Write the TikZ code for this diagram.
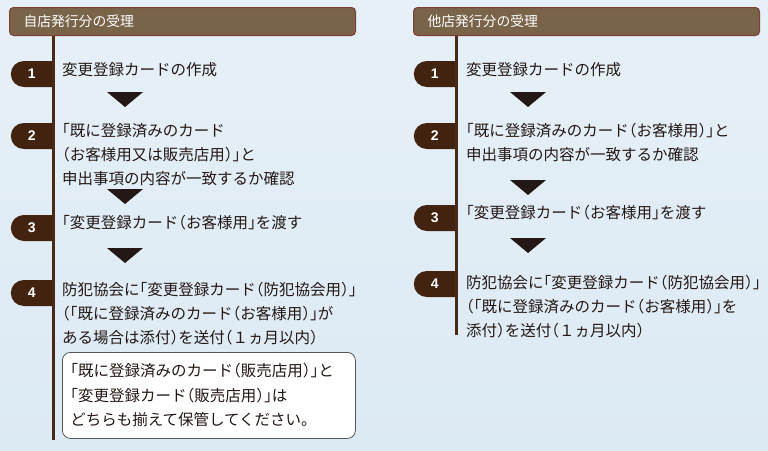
\documentclass[tikz,border=0pt]{standalone}
\usepackage{fontspec}
\setmainfont{Noto Sans CJK JP}[RawFeature=+halt]
\newfontfamily\numfont{Liberation Sans}
\usetikzlibrary{shapes.misc}
\definecolor{bgtop}{HTML}{E6F0F7}
\definecolor{bgbot}{HTML}{DCEAF4}
\definecolor{hdrfill}{HTML}{7A6449}
\definecolor{hdredge}{HTML}{7B3F34}
\definecolor{tabbrown}{HTML}{42230F}
\definecolor{linebrown}{HTML}{4B2A15}
\definecolor{ink}{HTML}{231815}
\definecolor{notegray}{HTML}{555555}

\begin{document}
\begin{tikzpicture}[x=1pt,y=-1pt,
    header/.style={draw=hdredge, line width=1pt, fill=hdrfill, rounded corners=4pt,
      anchor=north west, minimum height=28pt, text width=318pt, inner xsep=14pt,
      align=left, text=white, font=\fontsize{13.8}{14}\selectfont},
    numtab/.style={rounded rectangle, rounded rectangle right arc=none, fill=tabbrown,
      anchor=east, minimum width=41pt, minimum height=26pt, inner sep=0pt,
      text=white, font=\numfont\bfseries\fontsize{14}{14}\selectfont},
    steptext/.style={anchor=north west, inner sep=0pt, align=left, text=ink,
      font=\fontsize{15.5}{24}\selectfont},
    notebox/.style={draw=notegray, line width=0.8pt, fill=white, rounded corners=8pt,
      anchor=north west, minimum height=86pt, text width=277pt, inner xsep=8pt,
      align=left, text=ink, font=\fontsize{15.5}{24.5}\selectfont},
    stemline/.style={draw=linebrown, line width=3pt},
    tri/.style={fill=ink}]
    % Background
    \useasboundingbox (0,0) rectangle (768,450);
    \shade[top color=bgtop, bottom color=bgbot] (0,0) rectangle (768,450);
    % Vertical lines
    \coordinate (endL) at (53,440);
    \coordinate (endR) at (456,335);
    \draw[stemline] (53,30) -- (endL);
    \draw[stemline] (456,30) -- (endR);
    % Headers
    \node[header] (hdrL) at (9,7) {自店発行分の受理};
    \node[header] (hdrR) at (413,7) {他店発行分の受理};
    % Step tabs
    \node[numtab] (tabL1) at (52,74) {1};
    \node[numtab] (tabL2) at (52,136) {2};
    \node[numtab] (tabL3) at (52,228) {3};
    \node[numtab] (tabL4) at (52,293) {4};
    \node[numtab] (tabR1) at (455,74) {1};
    \node[numtab] (tabR2) at (455,136) {2};
    \node[numtab] (tabR3) at (455,218) {3};
    \node[numtab] (tabR4) at (455,284) {4};
    % Left texts
    \node[steptext] (txtL1) at (62,62) {変更登録カードの作成};
    \node[steptext] (txtL2) at (62,123) {「既に登録済みのカード\\（お客様用又は販売店用）」と\\申出事項の内容が一致するか確認};
    \node[steptext] (txtL3) at (62,215) {「変更登録カード（お客様用」を渡す};
    \node[steptext] (txtL4) at (62,282) {防犯協会に「変更登録カード（防犯協会用）」\\（「既に登録済みのカード（お客様用）」が\\ある場合は添付）を送付（１ヵ月以内）};
    \node[notebox] (noteL) at (62,352) {「既に登録済みのカード（販売店用）」と\\「変更登録カード（販売店用）」は\\どちらも揃えて保管してください。};
    % Right texts
    \node[steptext] (txtR1) at (466,62) {変更登録カードの作成};
    \node[steptext] (txtR2) at (466,123) {「既に登録済みのカード（お客様用）」と\\申出事項の内容が一致するか確認};
    \node[steptext] (txtR3) at (466,205) {「変更登録カード（お客様用」を渡す};
    \node[steptext] (txtR4) at (466,275) {防犯協会に「変更登録カード（防犯協会用）」\\（「既に登録済みのカード（お客様用）」を\\添付）を送付（１ヵ月以内）};
    % Down triangles
    \foreach \x/\y in {125/92, 125/189, 125/248, 528/92, 528/180, 528/238}
      \fill[tri] (\x-18,\y) -- (\x+18,\y) -- (\x,\y+15) -- cycle;
\end{tikzpicture}
\end{document}
